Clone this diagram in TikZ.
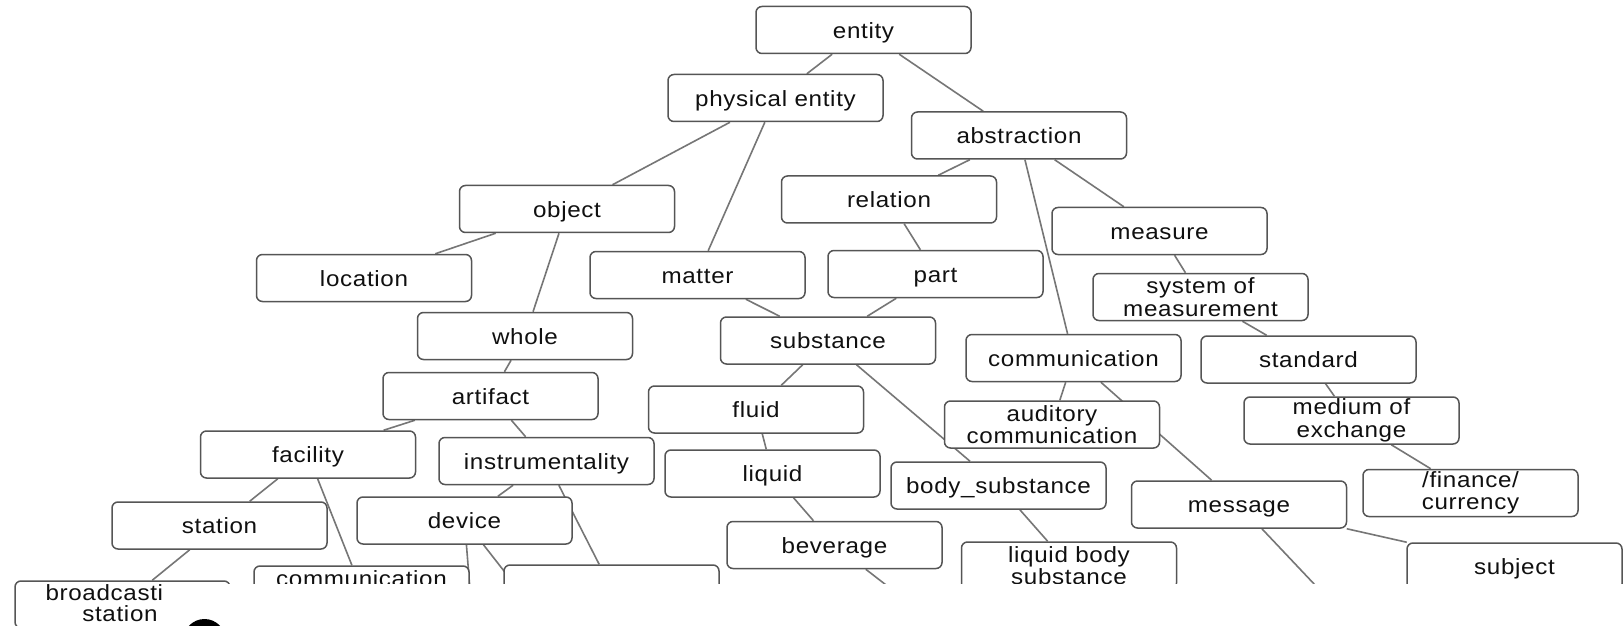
\documentclass[tikz,border=0pt]{standalone}
\usepackage{fontspec}
\setmainfont{Liberation Sans}[FakeStretch=1.1,LetterSpace=3.0]
\usetikzlibrary{backgrounds}
\pgfdeclarelayer{paper}
\pgfsetlayers{paper,background,main}
\definecolor{boxgray}{HTML}{555555}
\definecolor{linegray}{HTML}{767676}
\definecolor{txt}{HTML}{101010}
\tikzset{
  box/.style={draw=boxgray, line width=0.75pt, rounded corners=3pt, fill=white,
    minimum width=107.5pt, minimum height=23.5pt, inner sep=0pt, align=center,
    font=\fontsize{11}{11.2}\selectfont, text=txt},
  one/.style={box, text height=8.3pt, text depth=0pt},
  lbl/.style={inner sep=0pt, font=\fontsize{11}{11.2}\selectfont, text=txt},
  link/.style={draw=linegray, line width=0.8pt},
}
\begin{document}
\begin{tikzpicture}[x=0.5pt,y=-0.5pt]
\useasboundingbox (0,0) rectangle (1624,626);
\begin{pgfonlayer}{paper}
\fill[white] (0,0) rectangle (1624,626);
\end{pgfonlayer}

% taxonomy boxes
\node[one] (entity)    at (863.5,30)   {entity};
\node[one] (phys)      at (775.5,98)   {physical entity};
\node[one] (abstr)     at (1019,135.5) {abstraction};
\node[one] (object)    at (567,209)    {object};
\node[one] (relation)  at (889,199.5)  {relation};
\node[one] (measure)   at (1159.5,231) {measure};
\node[one] (location)  at (364,278)    {location};
\node[one] (matter)    at (697.5,275)  {matter};
\node[one] (part)      at (935.5,274)  {part};
\node[box] (sysmeas)   at (1200.5,297) {system of\\measurement};
\node[one] (whole)     at (525,336)    {whole};
\node[one] (substance) at (828,340.5)  {substance};
\node[one] (comm)      at (1073.5,358) {communication};
\node[one] (standard)  at (1308.5,359.5) {standard};
\node[one] (artifact)  at (490.5,396)  {artifact};
\node[one] (fluid)     at (756,409.5)  {fluid};
\node[box] (auditory)  at (1052,424.5) {auditory\\communication};
\node[box] (medium)    at (1351.5,420.5) {medium of\\exchange};
\node[one] (facility)  at (308,454.5)  {facility};
\node[one] (instr)     at (546.5,461)  {instrumentality};
\node[one] (liquid)    at (772.5,473.5) {liquid};
\node[one] (bodysub)   at (998.5,485.5) {body\_substance};
\node[one] (message)   at (1239,504.5) {message};
\node[box] (currency)  at (1470.5,493) {/finance/\\currency};
\node[one] (station)   at (219.5,525.5) {station};
\node[one] (device)    at (464.5,520.5) {device};
\node[one] (beverage)  at (834.5,545)  {beverage};
\node[box] (lbs)       at (1069,565.5) {liquid body\\substance};
\node[one] (subject)   at (1514.5,566.5) {subject};
\node[box] (comm2)     at (361.5,589.5) {communication\\\phantom{x}};
\node[box] (blank)     at (611.5,588.5) {};
\node[box] (broad)     at (122.5,604.5) {};
\node[lbl, anchor=base east] (broadA) at (163.5,600.7) {broadcasti};
\node[lbl, anchor=base east] (broadB) at (158,621.7) {station};

% branches leaving the visible area
\coordinate (devdownA) at (474,640);
\coordinate (devdownB) at (558,640);
\coordinate (bevdown)  at (957,640);
\coordinate (msgdown)  at (1367,640);

\begin{pgfonlayer}{background}
\draw[link] (entity) -- (phys);
\draw[link] (entity) -- (abstr);
\draw[link] (phys) -- (object);
\draw[link] (phys) -- (matter);
\draw[link] (abstr) -- (relation);
\draw[link] (abstr) -- (measure);
\draw[link] (abstr) -- (comm);
\draw[link] (object) -- (location);
\draw[link] (object) -- (whole);
\draw[link] (relation) -- (part);
\draw[link] (measure) -- (sysmeas);
\draw[link] (matter) -- (substance);
\draw[link] (part) -- (substance);
\draw[link] (sysmeas) -- (standard);
\draw[link] (whole) -- (artifact);
\draw[link] (substance) -- (fluid);
\draw[link] (substance) -- (bodysub);
\draw[link] (comm) -- (auditory);
\draw[link] (comm) -- (message);
\draw[link] (standard) -- (medium);
\draw[link] (artifact) -- (facility);
\draw[link] (artifact) -- (instr);
\draw[link] (fluid) -- (liquid);
\draw[link] (medium) -- (currency);
\draw[link] (facility) -- (station);
\draw[link] (facility) -- (comm2);
\draw[link] (instr) -- (device);
\draw[link] (instr) -- (blank);
\draw[link] (liquid) -- (beverage);
\draw[link] (bodysub) -- (lbs);
\draw[link] (message) -- (subject);
\draw[link] (message) -- (msgdown);
\draw[link] (station) -- (broad);
\draw[link] (device) -- (devdownA);
\draw[link] (device) -- (devdownB);
\draw[link] (beverage) -- (bevdown);
\end{pgfonlayer}

% cut-off strip along the bottom and the dark disc on it
\fill[white] (164,584) rectangle (1630,630);
\fill[black] (204.5,640) circle (21);
\end{tikzpicture}
\end{document}
